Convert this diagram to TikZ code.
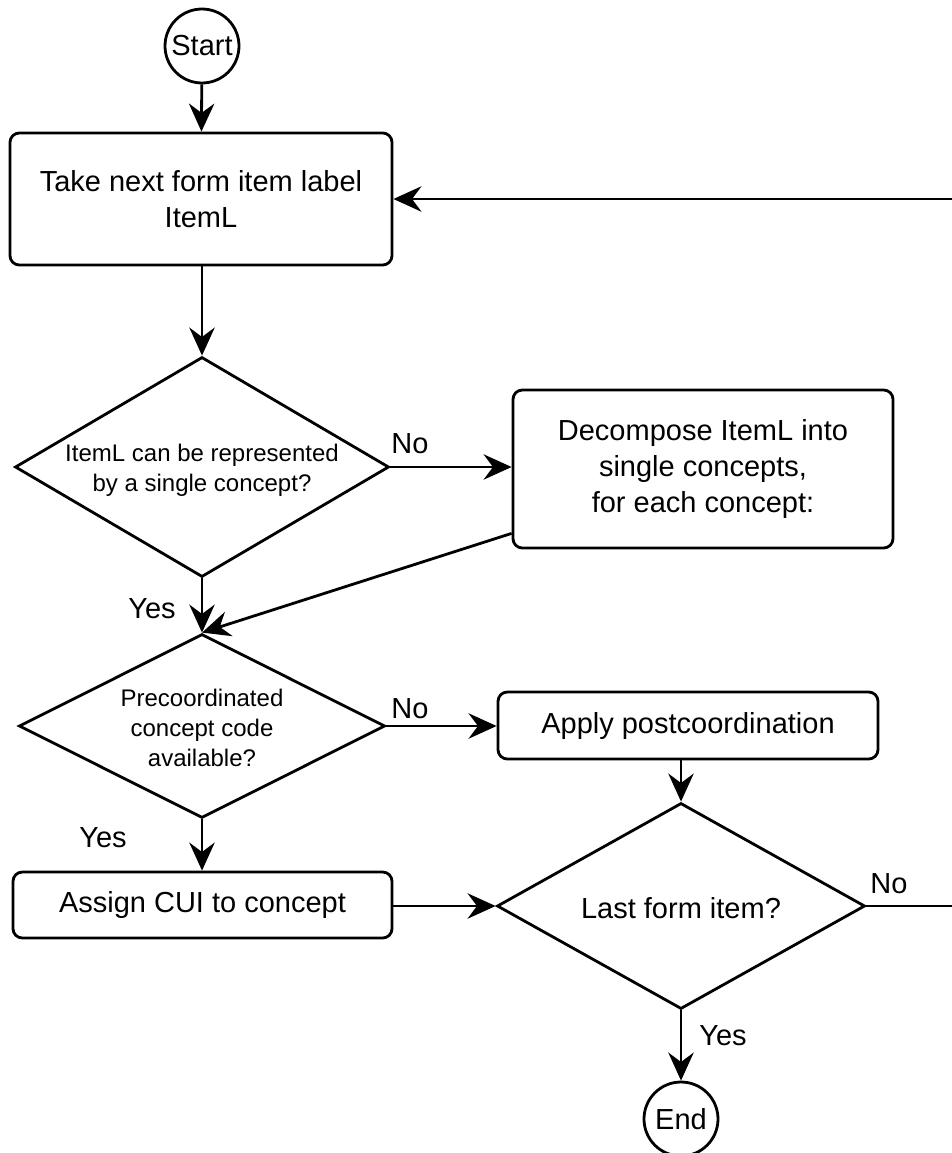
\documentclass[tikz,border=0pt]{standalone}
\usepackage{fontspec}
\setmainfont{Liberation Sans}
\usetikzlibrary{arrows.meta,shapes.geometric,calc}
\begin{document}
\begin{tikzpicture}[x=0.75pt,y=-0.75pt,line width=2.1pt,
  flow/.style={-{Stealth[length=21pt,width=19pt,inset=7pt]}},
  txt/.style={font=\fontsize{21.75}{27}\selectfont, align=center},
  small/.style={font=\fontsize{18}{22.5}\selectfont, align=center},
  box/.style={draw, rounded corners=7pt, inner sep=0pt, txt},
  dia/.style={draw, diamond, inner sep=0pt},
  term/.style={draw, circle, inner sep=0pt, minimum size=55.5pt, txt},
  lab/.style={font=\fontsize{21.75}{27}\selectfont, anchor=base, inner sep=0pt}]
\useasboundingbox (0,0) rectangle (952,1153);

\node[term] (start) at (202,46) {Start};
\node[box, minimum width=286.5pt, minimum height=99pt] (take) at (201,199) {Take next form item label\\ItemL};
\node[dia, minimum width=280.5pt, minimum height=165pt] (d1) at (202,467) {};
\node[small] (d1t) at (202,470) {ItemL can be represented\\by a single concept?};
\node[box, minimum width=285pt, minimum height=118.5pt] (dec) at (703,469) {Decompose ItemL into\\single concepts,\\for each concept:};
\node[dia, minimum width=274.5pt, minimum height=138pt] (d2) at (202,726) {};
\node[small] (d2t) at (202,728) {Precoordinated\\concept code\\available?};
\node[box, minimum width=285pt, minimum height=50.25pt] (apply) at (688,725.5) {Apply postcoordination};
\node[box, minimum width=284.25pt, minimum height=49.5pt] (assign) at (202.5,905) {Assign CUI to concept};
\node[dia, minimum width=276pt, minimum height=154.5pt] (d3) at (681,906) {};
\node[txt] (d3t) at (681,908) {Last form item?};
\node[term] (end) at (681,1119) {End};

\draw[flow] (start) -- (take);
\draw[flow] (d1.north |- take.south) -- (d1.north);
\draw[flow] (d1.east) -- (d1.east -| dec.west);
\coordinate (decout) at ($(dec.south west)+(0,-16)$);
\draw[flow] (decout) -- (d2.north);
\draw[flow] (d1.south) -- (d2.north);
\draw[flow] (d2.east) -- (d2.east -| apply.west);
\draw[flow] (apply.south -| d3.north) -- (d3.north);
\draw[flow] (d2.south) -- (d2.south |- assign.north);
\draw[flow] (assign.east |- d3.west) -- (d3.west);
\draw[flow] (d3.south) -- (end);
\coordinate (edge) at (965,906);
\draw[flow] (d3.east) -- (edge) |- (take.east);

\node[lab] (no1) at (410,453) {No};
\node[lab] (yes1) at (152,618) {Yes};
\node[lab] (no2) at (410,718) {No};
\node[lab] (yes2) at (103,847) {Yes};
\node[lab] (no3) at (889,893) {No};
\node[lab] (yes3) at (723,1045) {Yes};
\end{tikzpicture}
\end{document}
